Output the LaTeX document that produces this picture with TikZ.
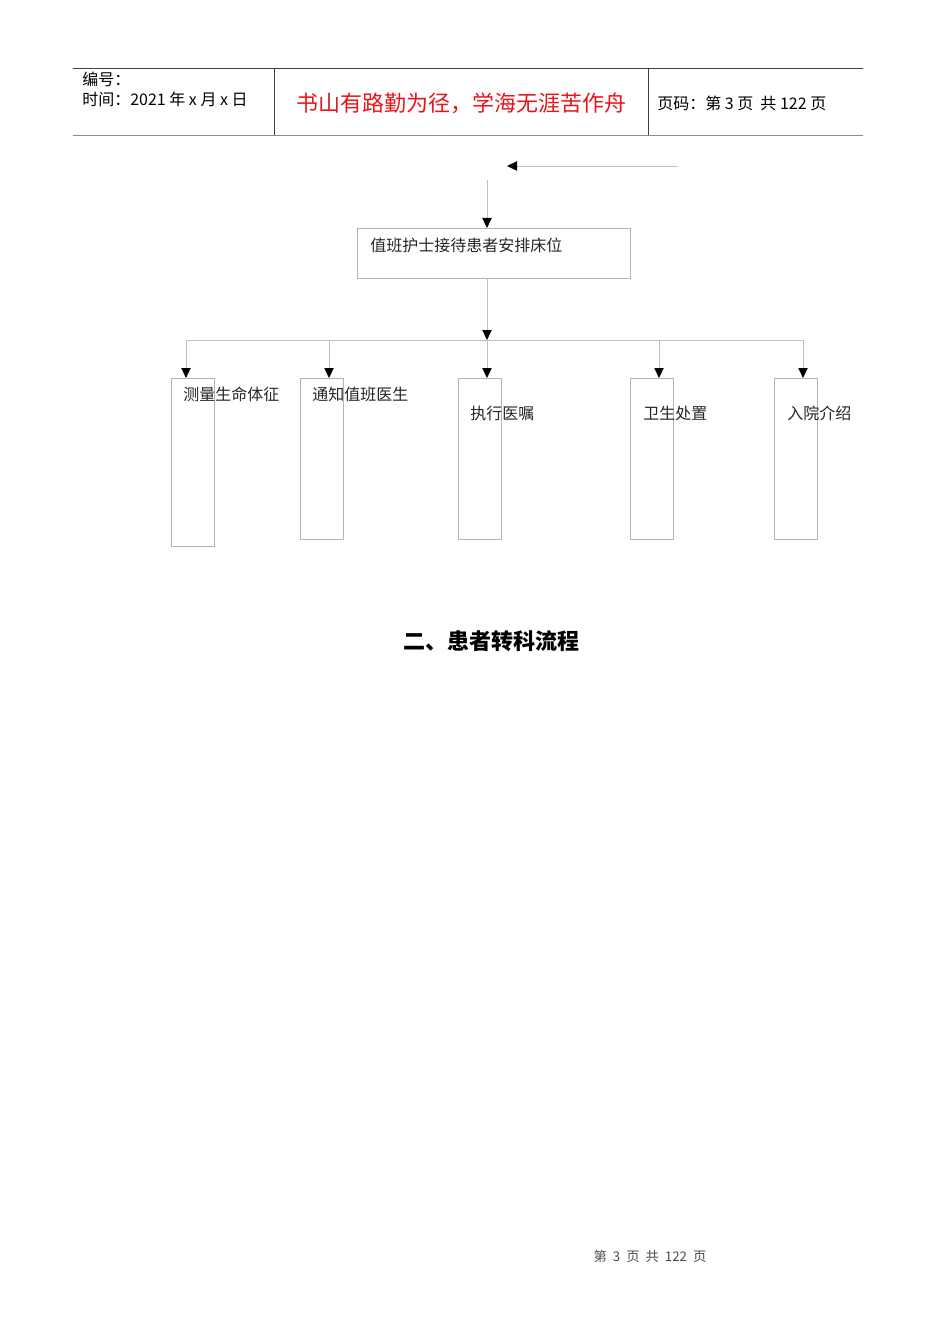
\documentclass[tikz,border=0pt]{standalone}
\usepackage{fontspec}
\setmainfont{Noto Sans CJK SC}
\newfontfamily\cjk{Noto Sans CJK SC}
\usetikzlibrary{arrows.meta}
\definecolor{boxgray}{HTML}{B4B4B4}
\definecolor{linegray}{HTML}{C0C0C0}
\definecolor{hdrred}{HTML}{E8141B}
\tikzset{
  pbox/.style={draw=boxgray,line width=0.6pt,inner sep=0pt,outer sep=0pt},
  conn/.style={draw=linegray,line width=0.6pt,-{Triangle[length=7.5pt,width=7pt,color=black]}},
  btext/.style={anchor=west,inner sep=0pt,font=\cjk\fontsize{12}{14}\selectfont,text=black!85},
  htext/.style={anchor=west,inner sep=0pt,font=\cjk\fontsize{12}{14}\selectfont}
}
\begin{document}
\begin{tikzpicture}[x=0.75pt,y=-0.75pt]
\useasboundingbox (0,0) rectangle (950,1344);
% header
\draw[line width=0.7pt,black!75] (73,68) -- (863,68);
\draw[line width=1.2pt,black!45] (73,135.5) -- (863,135.5);
\draw[line width=0.7pt,black!75] (274,68) -- (274,135);
\draw[line width=0.7pt,black!75] (648,68) -- (648,135);
\node[htext] (h1) at (82,79) {编号：};
\node[htext] (h2) at (82,99) {时间：2021 年 x 月 x 日};
\node[inner sep=0pt,font=\cjk\fontsize{16.5}{18}\selectfont,text=hdrred] (h3) at (461,103) {书山有路勤为径，学海无涯苦作舟};
\node[htext] (h4) at (657,103) {页码：第 3 页\ \ 共 122 页};
% top arrow
\coordinate (ta) at (678,166);
\coordinate (tb) at (507,166);
\draw[draw=linegray,line width=0.6pt,{Triangle[length=7.5pt,width=7pt,color=black]}-] (tb) -- (ta);
\coordinate (vtop) at (487,180);
% main box
\node[pbox,minimum width=273*0.75pt,minimum height=50*0.75pt] (m) at (493.5,253) {};
\node[btext] (mt) at (370,245) {值班护士接待患者安排床位};
\draw[conn] (vtop) -- (m.north -| vtop);
% distribution line
\coordinate (j) at (487,340);
\draw[conn] (m.south -| j) -- (j);
% boxes
\node[pbox,minimum width=43*0.75pt,minimum height=168*0.75pt] (b1) at (192.5,462) {};
\node[pbox,minimum width=43*0.75pt,minimum height=161*0.75pt] (b2) at (321.5,458.5) {};
\node[pbox,minimum width=43*0.75pt,minimum height=161*0.75pt] (b3) at (479.5,458.5) {};
\node[pbox,minimum width=43*0.75pt,minimum height=161*0.75pt] (b4) at (651.5,458.5) {};
\node[pbox,minimum width=43*0.75pt,minimum height=161*0.75pt] (b5) at (795.5,458.5) {};
\node[btext] (t1) at (183,394) {测量生命体征};
\node[btext] (t2) at (312,394) {通知值班医生};
\node[btext] (t3) at (470,413) {执行医嘱};
\node[btext] (t4) at (643,413) {卫生处置};
\node[btext] (t5) at (787,413) {入院介绍};
\coordinate (c1) at (186,340);
\coordinate (c2) at (329,340);
\coordinate (c4) at (659,340);
\coordinate (c5) at (803,340);
\draw[draw=linegray,line width=0.6pt] (c1) -- (c5);
\draw[conn] (c1) -- (c1 |- b1.north);
\draw[conn] (c2) -- (c2 |- b2.north);
\draw[conn] (j) -- (j |- b3.north);
\draw[conn] (c4) -- (c4 |- b4.north);
\draw[conn] (c5) -- (c5 |- b5.north);
% title
\node[inner sep=0pt,font=\cjk\fontsize{16.5}{18}\selectfont\bfseries] (title) at (491,641) {二、患者转科流程};
% footer
\node[inner sep=0pt,font=\cjk\fontsize{10}{12}\selectfont,text=black!70] (foot) at (650,1256) {第\ \ 3\ \ 页\ \ 共\ \ 122\ \ 页};
\end{tikzpicture}
\end{document}
